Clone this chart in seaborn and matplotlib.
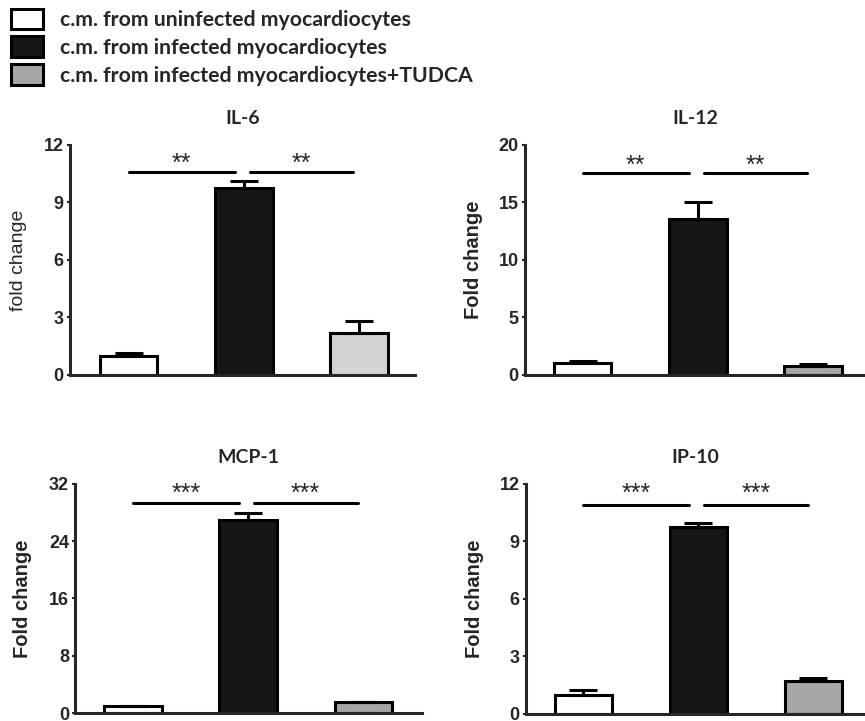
import numpy as np
import pandas as pd
import matplotlib
matplotlib.use('Agg')
import matplotlib.pyplot as plt
import seaborn as sns
from matplotlib.patches import Patch

# groups and legend text
groups = ['uninfected', 'infected', 'infected+TUDCA']
legend_labels = ['c.m. from uninfected myocardiocytes',
                 'c.m. from infected myocardiocytes',
                 'c.m. from infected myocardiocytes+TUDCA']

# values (mean, upper error)
il6_mean = [1.0, 9.75, 2.17]
il6_err = [0.13, 0.35, 0.65]
il12_mean = [1.0, 13.55, 0.8]
il12_err = [0.2, 1.5, 0.13]
mcp1_mean = [0.95, 26.9, 1.5]
mcp1_err = [0.0, 1.0, 0.0]
ip10_mean = [1.0, 9.75, 1.7]
ip10_err = [0.26, 0.18, 0.18]

titles = ['IL-6', 'IL-12', 'MCP-1', 'IP-10']
ylabels = ['fold change', 'Fold change', 'Fold change', 'Fold change']
yticks = [[0, 3, 6, 9, 12], [0, 5, 10, 15, 20], [0, 8, 16, 24, 32], [0, 3, 6, 9, 12]]
stars = ['**', '**', '***', '***']
bracket_y = [10.6, 17.6, 29.3, 10.9]
star_y = [11.0, 18.2, 30.6, 11.45]

sns.set_style('ticks')
plt.rcParams['font.family'] = ['Liberation Sans', 'DejaVu Sans']

black = '#161616'
gray = '#a6a6a6'
light = '#d3d3d3'
palettes = [['white', black, light], ['white', black, gray],
            ['white', black, gray], ['white', black, gray]]

fig = plt.figure(figsize=(8.65, 7.21), dpi=100)

# axes boxes (fig fractions) and x limits per panel
boxes = [[0.081, 0.480, 0.399, 0.319], [0.607, 0.480, 0.393, 0.319],
         [0.087, 0.011, 0.401, 0.318], [0.608, 0.010, 0.392, 0.319]]
xlims = [(-0.51, 2.49), (-0.5, 2.45), (-0.5, 2.51), (-0.5, 2.45)]

means = [il6_mean, il12_mean, mcp1_mean, ip10_mean]
errs = [il6_err, il12_err, mcp1_err, ip10_err]

lw = 2.2
for i in range(4):
    ax = fig.add_axes(boxes[i])
    df = pd.DataFrame({'group': groups, 'value': means[i]})
    sns.barplot(data=df, x='group', y='value', hue='group', palette=palettes[i],
                width=0.5, edgecolor='black', linewidth=lw, errorbar=None,
                legend=False, ax=ax, saturation=1)
    ax.errorbar(range(3), means[i], yerr=[np.zeros(3), errs[i]], fmt='none',
                ecolor='black', elinewidth=lw, capsize=10, capthick=lw, zorder=3)
    # significance brackets
    by = bracket_y[i]
    ax.plot([0.0, 0.92], [by, by], color='black', lw=lw, solid_capstyle='round')
    ax.plot([1.05, 1.95], [by, by], color='black', lw=lw, solid_capstyle='round')
    ax.text(0.46, star_y[i], stars[i], ha='center', va='center', fontsize=18)
    ax.text(1.5, star_y[i], stars[i], ha='center', va='center', fontsize=18)

    ax.set_xlim(*xlims[i])
    ax.set_ylim(0, yticks[i][-1])
    ax.set_yticks(yticks[i])
    ax.set_xticks([])
    ax.set_xlabel('')
    for s in ['top', 'right']:
        ax.spines[s].set_visible(False)
    for s in ['left', 'bottom']:
        ax.spines[s].set_linewidth(lw)
    ax.tick_params(axis='y', length=2.5, width=1.5, pad=2, labelsize=13)
    for t in ax.get_yticklabels():
        t.set_fontweight('bold')
    if i == 0:
        ax.set_ylabel(ylabels[i], fontsize=14)
    else:
        ax.set_ylabel(ylabels[i], fontsize=14.5, fontweight='bold')
    ax.yaxis.set_label_coords(-0.125, 0.5)
    ax.set_title(titles[i], fontsize=14, fontweight='bold', family='Lato', pad=15)

handles = [Patch(facecolor=c, edgecolor='black', linewidth=lw) for c in ['white', black, gray]]
fig.legend(handles, legend_labels, loc='upper left', bbox_to_anchor=(0.013, 0.988),
           frameon=False, borderpad=0, borderaxespad=0,
           prop={'family': 'Lato', 'weight': 'bold', 'size': 15.3},
           handlelength=1.5, handleheight=1.1, handletextpad=0.8, labelspacing=0.3)

fig.savefig('out.png', dpi=100)
